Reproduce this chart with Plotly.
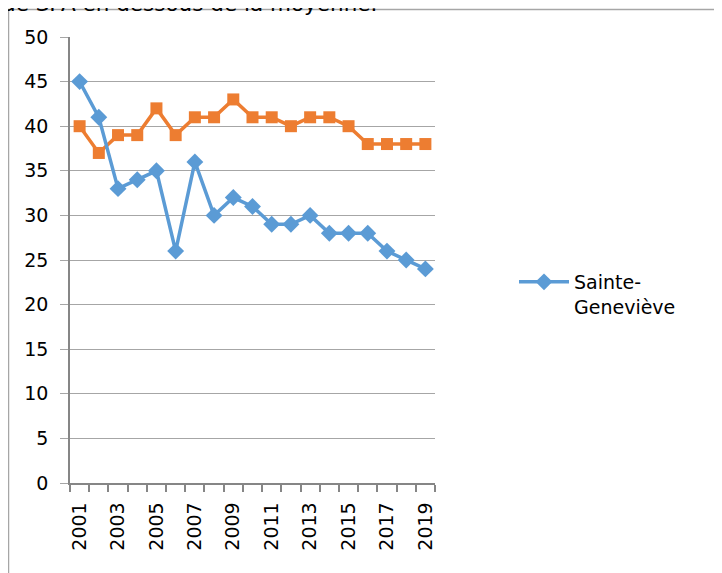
import plotly.graph_objects as go

years = list(range(2001, 2020))
sainte_genevieve = [45, 41, 33, 34, 35, 26, 36, 30, 32, 31, 29, 29, 30, 28, 28, 28, 26, 25, 24]
other_series = [40, 37, 39, 39, 42, 39, 41, 41, 43, 41, 41, 40, 41, 41, 40, 38, 38, 38, 38]
label_years = [y for y in years if y % 2 == 1]
title_text = "de SPA en dessous de la moyenne."

OFF = 8  # default body margin of the page
W, H = 714, 565
L, R, T, B = 62, 287, 29, 90
pw, ph = W - L - R, H - T - B

def px(x):  # page pixel -> paper x
    return (x - OFF - L) / pw

def py(y):  # page pixel -> paper y
    return (H - B - (y - OFF)) / ph

FONT = "DejaVu Sans"
fig = go.Figure()
fig.add_trace(go.Scatter(
    x=years, y=other_series, mode="lines+markers", name="Série 2", showlegend=False,
    line=dict(color="#ED7D31", width=3.5),
    marker=dict(symbol="square", size=12, color="#ED7D31"),
))
fig.add_trace(go.Scatter(
    x=years, y=sainte_genevieve, mode="lines+markers", name="Sainte-<br>Geneviève",
    line=dict(color="#5B9BD5", width=3.5),
    marker=dict(symbol="diamond", size=13, color="#5B9BD5"),
))

fig.update_layout(
    width=W, height=H,
    margin=dict(l=L, r=R, t=T, b=B, pad=0),
    paper_bgcolor="white", plot_bgcolor="white",
    font=dict(family=FONT, size=19, color="black"),
    showlegend=True,
    legend=dict(x=px(514), y=py(263), xanchor="left", yanchor="top",
                valign="top", font=dict(size=19, family=FONT),
                bgcolor="rgba(0,0,0,0)", tracegroupgap=0, itemwidth=50),
    xaxis=dict(
        range=[2000.5, 2019.5], tickmode="array", tickvals=label_years,
        ticktext=[str(y) for y in label_years], tickangle=-90,
        ticks="", showgrid=False, showline=True, linecolor="#868686", linewidth=1.5,
        zeroline=False, ticklabelstandoff=10,
        minor=dict(tickmode="linear", tick0=2000.5, dtick=1, ticks="outside",
                   ticklen=7, tickcolor="#868686", tickwidth=1.5, showgrid=False),
    ),
    yaxis=dict(
        range=[0, 50], dtick=5, tick0=0, showgrid=True, gridcolor="#A6A6A6", gridwidth=1.2,
        ticks="outside", ticklen=8, tickcolor="#A6A6A6", tickwidth=1.2,
        showline=True, linecolor="#868686", linewidth=1.5, zeroline=False,
        ticklabelstandoff=8,
    ),
    shapes=[
        dict(type="line", xref="paper", yref="paper", x0=px(8.5), x1=px(8.5), y0=py(9), y1=py(580),
             line=dict(color="#A6A6A6", width=1.5)),
        dict(type="line", xref="paper", yref="paper", x0=px(8), x1=px(730), y0=py(9.5), y1=py(9.5),
             line=dict(color="#A6A6A6", width=1.5)),
    ],
    annotations=[
        dict(text=title_text, xref="paper", yref="paper", x=px(0), y=py(18),
             xanchor="left", yanchor="bottom", showarrow=False,
             font=dict(size=21.5, family=FONT, color="black")),
    ],
)

fig.write_html("out.html")
